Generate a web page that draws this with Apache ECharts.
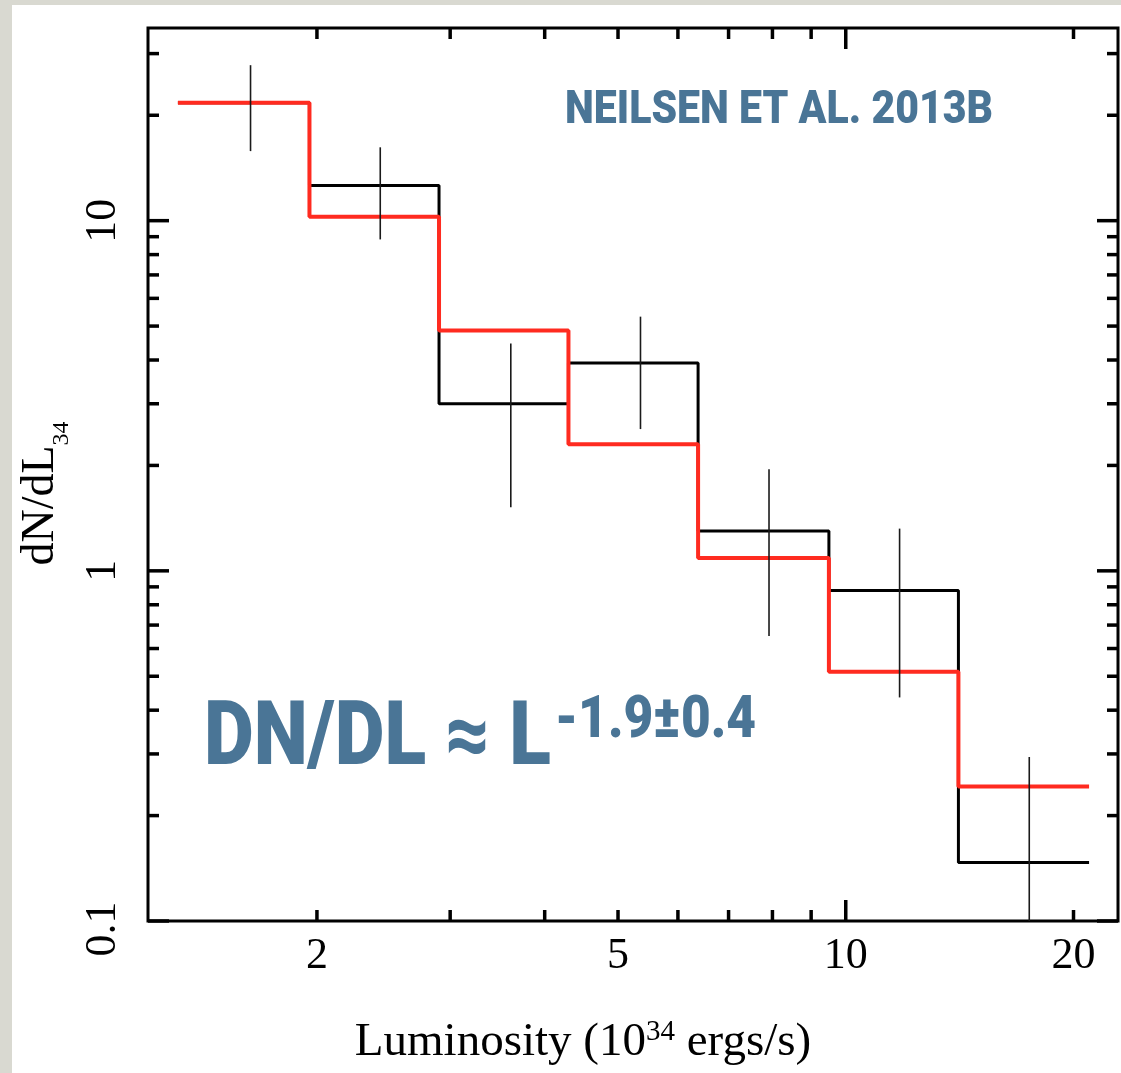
<!DOCTYPE html>
<html>
<head>
<meta charset="utf-8">
<title>dN/dL34 luminosity function</title>
<script src="https://cdn.jsdelivr.net/npm/echarts@6/dist/echarts.min.js"></script>
<style>
  html, body { margin: 0; padding: 0; background: #d9d9d1; }
  #paper { position: absolute; left: 12px; top: 5px; width: 1109px; height: 1068px; background: #fff; }
  #main { position: absolute; left: 0; top: 0; width: 1121px; height: 1073px; }
</style>
</head>
<body>
<div id="paper"></div>
<div id="main"></div>
<script>
// histogram bins (10^34 ergs/s)
const binEdges = [1.31, 1.955, 2.90, 4.30, 6.38, 9.50, 14.09, 20.97];
const observed = [21.7, 12.6, 3.00, 3.92, 1.30, 0.878, 0.147];
const model = [21.7, 10.26, 4.86, 2.30, 1.088, 0.515, 0.242];
// error bars
const errX = [1.634, 2.425, 3.608, 5.354, 7.917, 11.78, 17.48];
const errLow = [15.8, 8.84, 1.52, 2.54, 0.651, 0.435, 0.06];
const errHigh = [27.8, 16.2, 4.46, 5.32, 1.95, 1.32, 0.294];

const xMajorTicks = [10];
const xMinorTicks = [2, 3, 4, 5, 6, 7, 8, 9, 20];
const yMajorTicks = [0.1, 1, 10];
const yMinorTicks = [0.2, 0.3, 0.4, 0.5, 0.6, 0.7, 0.8, 0.9, 2, 3, 4, 5, 6, 7, 8, 9, 20, 30];
const xTickValues = [2, 5, 10, 20];
const xTickLabels = ['2', '5', '10', '20'];
const yTickValues = [0.1, 1, 10];
const yTickLabels = ['0.1', '1', '10'];

const sourceNote = 'NEILSEN ET AL. 2013B';
const formulaBase = 'DN/DL \u2248 L';
const formulaExp = '-1.9\u00b10.4';

const X_MIN = 1.196, X_MAX = 22.9, Y_MIN = 0.1, Y_MAX = 35.5;
const SERIF = 'Liberation Serif, Times New Roman, serif';
const BLUE = '#4a7596';

function stepData(values) {
    let pts = values.map((v, i) => [binEdges[i], v]);
    pts.push([binEdges[binEdges.length - 1], values[values.length - 1]]);
    return pts;
}

function fitScale(text, font, target) {
    let ctx = document.createElement('canvas').getContext('2d');
    ctx.font = font;
    return target / ctx.measureText(text).width;
}

let tickData = [];
xMajorTicks.forEach(v => tickData.push([v, Y_MIN, 0, 1]));
xMinorTicks.forEach(v => tickData.push([v, Y_MIN, 0, 0]));
yMajorTicks.forEach(v => tickData.push([X_MIN, v, 1, 1]));
yMinorTicks.forEach(v => tickData.push([X_MIN, v, 1, 0]));

function renderTick(params, api) {
    const cs = params.coordSys;
    const len = api.value(3) ? 21 : 11;
    const p = api.coord([api.value(0), api.value(1)]);
    const style = { stroke: '#000', lineWidth: 3.5 };
    let lines;
    if (api.value(2) === 0) {
        const b = cs.y + cs.height;
        lines = [[p[0], b, p[0], b - len], [p[0], cs.y, p[0], cs.y + len]];
    } else {
        const r = cs.x + cs.width;
        lines = [[cs.x, p[1], cs.x + len, p[1]], [r, p[1], r - len, p[1]]];
    }
    return {
        type: 'group',
        children: lines.map(l => ({
            type: 'line',
            shape: { x1: l[0], y1: l[1], x2: l[2], y2: l[3] },
            style: style
        }))
    };
}

const titleFont = '900 46px Roboto';
const baseFont = '900 89px Roboto';
const expFont = '900 60px Roboto';

const chart = echarts.init(document.getElementById('main'));
const option = {
    animation: false,
    backgroundColor: 'transparent',
    grid: {
        left: 145, right: 3, top: 28, bottom: 143,
        show: true, borderColor: '#000', borderWidth: 3, backgroundColor: 'transparent'
    },
    xAxis: {
        type: 'log', logBase: 10, min: X_MIN, max: X_MAX,
        axisLine: { show: false }, axisTick: { show: false },
        axisLabel: { show: false }, splitLine: { show: false },
        name: 'Luminosity (10{sup|34} ergs/s)',
        nameLocation: 'middle',
        nameGap: 97,
        nameTextStyle: {
            fontFamily: SERIF, fontSize: 47, color: '#000', lineHeight: 50,
            padding: [0, 100, 0, 0],
            rich: { sup: { fontFamily: SERIF, fontSize: 29, lineHeight: 28, verticalAlign: 'top', color: '#000' } }
        }
    },
    yAxis: {
        type: 'log', logBase: 10, min: Y_MIN, max: Y_MAX,
        axisLine: { show: false }, axisTick: { show: false },
        axisLabel: { show: false }, splitLine: { show: false },
        name: 'dN/dL{sub|34}',
        nameLocation: 'middle',
        nameRotate: 90,
        nameGap: 74,
        nameTextStyle: {
            fontFamily: SERIF, fontSize: 46, color: '#000', lineHeight: 66,
            padding: [0, 38, 0, 0],
            rich: { sub: { fontFamily: SERIF, fontSize: 24, lineHeight: 24, verticalAlign: 'bottom', color: '#000' } }
        }
    },
    graphic: [
        {
            type: 'text', x: 565, y: 111.5, z: 10,
            scaleX: fitScale(sourceNote, titleFont, 428),
            style: { text: sourceNote, font: titleFont, fill: BLUE, align: 'left', verticalAlign: 'middle' }
        },
        {
            type: 'text', x: 204, y: 742, z: 10,
            scaleX: fitScale(formulaBase, baseFont, 347),
            style: { text: formulaBase, font: baseFont, fill: BLUE, align: 'left', verticalAlign: 'middle' }
        },
        {
            type: 'text', x: 555, y: 721.5, z: 10,
            scaleX: fitScale(formulaExp, expFont, 201),
            style: { text: formulaExp, font: expFont, fill: BLUE, align: 'left', verticalAlign: 'middle' }
        }
    ],
    series: [
        {
            name: 'observed', type: 'line', step: 'end', symbol: 'none', z: 2,
            data: stepData(observed),
            lineStyle: { color: '#000', width: 3 }
        },
        {
            name: 'model', type: 'line', step: 'end', symbol: 'none', z: 3,
            data: stepData(model),
            lineStyle: { color: '#ff2b20', width: 4 }
        },
        {
            name: 'errors', type: 'custom', clip: true, z: 4,
            data: errX.map((x, i) => [x, errLow[i], errHigh[i]]),
            renderItem: (params, api) => {
                const a = api.coord([api.value(0), api.value(1)]);
                const b = api.coord([api.value(0), api.value(2)]);
                return {
                    type: 'line',
                    shape: { x1: a[0], y1: a[1], x2: b[0], y2: b[1] },
                    style: { stroke: '#1a1a1a', lineWidth: 1.6 }
                };
            }
        },
        {
            name: 'ticks', type: 'custom', z: 5,
            data: tickData,
            renderItem: renderTick
        },
        {
            name: 'xlabels', type: 'custom', z: 5,
            data: xTickValues.map(v => [v, Y_MIN]),
            renderItem: (params, api) => {
                const cs = params.coordSys;
                const p = api.coord([api.value(0), Y_MIN]);
                return {
                    type: 'text', x: p[0], y: cs.y + cs.height + 35,
                    style: {
                        text: xTickLabels[params.dataIndex], fontFamily: SERIF, fontSize: 44,
                        fill: '#000', align: 'center', verticalAlign: 'middle'
                    }
                };
            }
        },
        {
            name: 'ylabels', type: 'custom', z: 5,
            data: yTickValues.map(v => [X_MIN, v]),
            renderItem: (params, api) => {
                const cs = params.coordSys;
                const p = api.coord([X_MIN, api.value(1)]);
                // bottom label is pushed a little below the axis end
                const y = p[1] >= cs.y + cs.height - 1 ? p[1] + 8 : p[1];
                return {
                    type: 'text', x: cs.x - 45, y: y, rotation: Math.PI / 2,
                    style: {
                        text: yTickLabels[params.dataIndex], fontFamily: SERIF, fontSize: 44,
                        fill: '#000', align: 'center', verticalAlign: 'middle'
                    }
                };
            }
        }
    ]
};
chart.setOption(option);
</script>
</body>
</html>
